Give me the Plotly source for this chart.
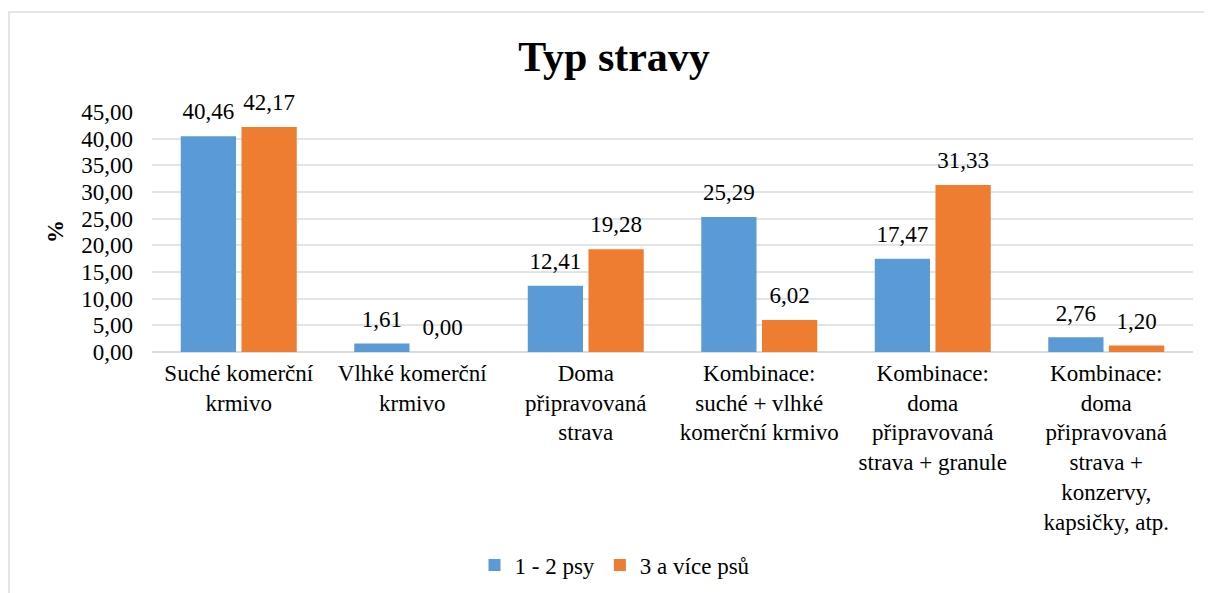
import plotly.graph_objects as go

categories = [
    "Suché komerční<br>krmivo",
    "Vlhké komerční<br>krmivo",
    "Doma<br>připravovaná<br>strava",
    "Kombinace:<br>suché + vlhké<br>komerční krmivo",
    "Kombinace:<br>doma<br>připravovaná<br>strava + granule",
    "Kombinace:<br>doma<br>připravovaná<br>strava +<br>konzervy,<br>kapsičky, atp.",
]
series_names = ["1 - 2 psy", "3 a více psů"]
values_1_2 = [40.46, 1.61, 12.41, 25.29, 17.47, 2.76]
values_3plus = [42.17, 0.00, 19.28, 6.02, 31.33, 1.20]
y_ticks = [0, 5, 10, 15, 20, 25, 30, 35, 40, 45]

FONT = "Liberation Serif"
FS = 23
OFF = 8
W, H = 1212 - OFF, 593 - OFF
PX0, PX1, PY0, PY1 = 152, 1193, 112, 352
L, R, T, B = PX0 - OFF, W - (PX1 - OFF), PY0 - OFF, H - (PY1 - OFF)
PW, PH = PX1 - PX0, PY1 - PY0

def px_x(x):
    return (x - PX0) / PW

def px_y(y):
    return (PY1 - y) / PH

fig = go.Figure()
series = [
    (series_names[0], values_1_2, "#5B9BD5", "g1"),
    (series_names[1], values_3plus, "#EE7D31", "g2"),
]
for name, vals, color, grp in series:
    fig.add_trace(go.Bar(
        x=categories, y=vals, name=name, offsetgroup=grp,
        marker=dict(color=color, line=dict(width=0)),
        hoverinfo="skip",
    ))
for name, vals, color, grp in series:
    fig.add_trace(go.Scatter(
        x=categories, y=vals, name=name, offsetgroup=grp,
        mode="markers+text", showlegend=False,
        marker=dict(size=16, opacity=0, color=color),
        texttemplate="%{y:.2f}", textposition="top center",
        textfont=dict(family=FONT, size=FS, color="black"),
        cliponaxis=False, hoverinfo="skip",
    ))

fig.update_layout(
    width=W, height=H,
    margin=dict(l=L, r=R, t=T, b=B, autoexpand=False),
    paper_bgcolor="white", plot_bgcolor="white",
    separators=", ",
    barmode="group", bargap=0.30, bargroupgap=0.09,
    scattermode="group", scattergap=0.30,
    font=dict(family=FONT, size=FS, color="black"),
    title=dict(text="<b>Typ stravy</b>", font=dict(family=FONT, size=42, color="black"),
               x=px_x(614), xref="paper", xanchor="center",
               y=1 - (56 - OFF) / H, yref="container", yanchor="middle"),
    showlegend=True,
    legend=dict(orientation="h", x=px_x(615), y=px_y(565), xanchor="center", yanchor="middle",
                font=dict(family=FONT, size=FS, color="black"), itemwidth=30, traceorder="normal"),
    xaxis=dict(showgrid=False, showline=True, linecolor="#D9DDE3", linewidth=1,
               ticks="", tickfont=dict(family=FONT, size=FS, color="black"), tickangle=0,
               automargin=False),
    yaxis=dict(range=[0, 45], tickvals=y_ticks, tickformat=".2f",
               showgrid=True, gridcolor="#E1E5EA", gridwidth=1.5,
               zeroline=True, zerolinecolor="#D9DDE3", zerolinewidth=1.5,
               showline=False, ticks="", ticklabelstandoff=18, automargin=False,
               tickfont=dict(family=FONT, size=FS, color="black")),
    shapes=[dict(type="rect", xref="paper", yref="paper",
                 x0=px_x(9), x1=px_x(1240), y0=px_y(620), y1=px_y(12),
                 line=dict(color="#D9DDE3", width=1.5), fillcolor="rgba(0,0,0,0)", layer="below")],
    annotations=[dict(text="%", xref="paper", yref="paper", x=px_x(55), y=0.5,
                      textangle=-90, showarrow=False, xanchor="center", yanchor="middle",
                      font=dict(family=FONT, size=FS, color="black", weight="bold"))],
)

fig.write_html("out.html")
